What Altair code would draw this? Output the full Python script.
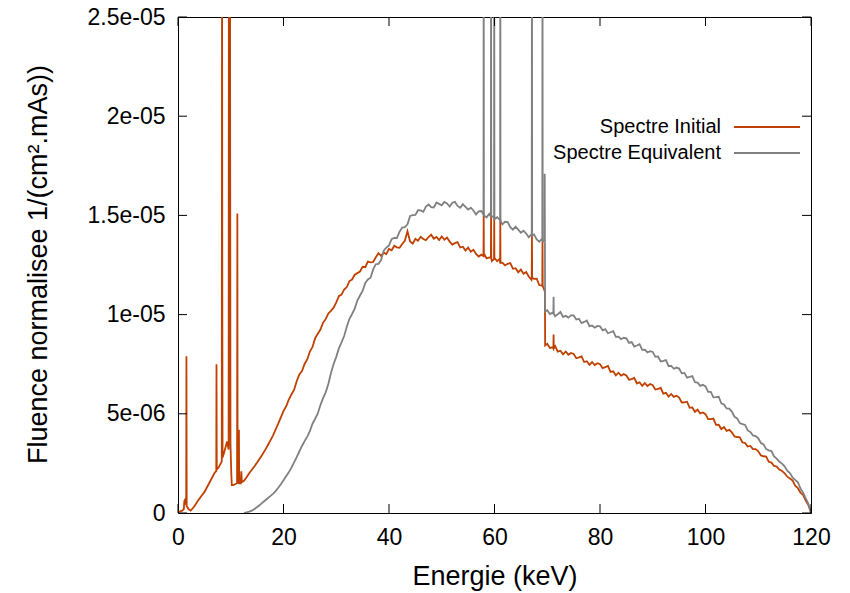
import altair as alt
import pandas as pd

# Fluence values are given in units of 1e-6 1/(cm^2.mAs)
UNIT = 1e-6

# ---- regular 0.5 keV grid, 12.5 .. 120 keV ----
grid_energy = [12.5 + 0.5 * i for i in range(216)]

initial_grid = [
    1.62, 1.80, 2.00, 2.18, 2.36, 2.55, 2.75, 2.95, 3.17, 3.40,
    3.65, 3.90, 4.20, 4.50, 4.82, 5.14, 5.37, 5.71, 5.97, 6.20,
    6.64, 6.98, 7.16, 7.51, 7.74, 8.14, 8.37, 8.81, 9.04, 9.25,
    9.59, 9.77, 10.06, 10.19, 10.35, 10.62, 10.93, 11.01, 11.26, 11.39,
    11.69, 11.77, 12.01, 12.09, 12.17,
    12.41, 12.39, 12.67, 12.63, 12.65, 12.89, 13.10, 12.96, 13.12, 13.05,
    13.31, 13.24, 13.47, 13.39, 13.37, 13.56, 13.72, 14.20, 13.68, 13.58,
    13.82, 13.72, 13.92, 13.81, 13.75, 13.91, 14.03, 13.82, 13.91, 13.76,
    13.94, 13.77, 13.88, 13.68, 13.53, 13.60, 13.65, 13.38, 13.42, 13.23,
    13.38, 13.17, 13.27, 13.06, 12.93, 13.02, 13.08, 12.83, 12.88, 12.70,
    12.86, 12.69, 12.82, 12.62, 12.48, 12.56, 12.60, 12.31, 12.34, 12.13,
    12.27, 12.06, 12.15, 11.92, 11.75, 11.80, 11.81, 11.48, 11.47, 11.20,
    8.53, 8.32, 8.35, 8.41, 8.13, 8.18, 8.00, 8.14, 7.98, 8.07,
    8.02, 7.80, 7.84, 7.89, 7.61, 7.65, 7.47, 7.61, 7.46, 7.55,
    7.50, 7.30, 7.35, 7.41, 7.11, 7.14, 6.94, 7.07, 6.92, 7.00,
    6.93, 6.72, 6.75, 6.81, 6.53, 6.59, 6.41, 6.55, 6.40, 6.50,
    6.44, 6.22, 6.25, 6.31, 6.02, 6.06, 5.87, 6.00, 5.85, 5.91,
    5.82, 5.57, 5.58, 5.61, 5.30, 5.32, 5.10, 5.21, 5.02, 5.07,
    4.98, 4.73, 4.73, 4.76, 4.44, 4.45, 4.23, 4.33, 4.14, 4.19,
    4.06, 3.86, 3.83, 3.81, 3.56, 3.53, 3.35, 3.38, 3.22, 3.22,
    3.11, 2.90, 2.86, 2.84, 2.58, 2.54, 2.37, 2.34, 2.19, 2.12,
    2.00, 1.83, 1.74, 1.64, 1.38, 1.26, 1.03, 0.91, 0.63, 0.40,
    0.02,
]

equivalent_grid = [
    0.00, 0.03, 0.07, 0.12, 0.20, 0.30, 0.40, 0.52, 0.63, 0.74,
    0.85, 0.96, 1.10, 1.27, 1.45, 1.65, 1.85, 2.05, 2.28, 2.55,
    2.82, 3.10, 3.38, 3.62, 3.85, 4.12, 4.50, 4.75, 5.02, 5.44,
    5.79, 6.08, 6.50, 7.06, 7.51, 7.87, 8.30, 8.60, 8.92, 9.39,
    9.79, 10.03, 10.30, 10.71, 10.96,
    11.19, 11.60, 11.77, 11.86, 12.28, 12.54, 12.56, 12.75, 13.22, 13.38,
    13.49, 13.80, 13.87, 13.86, 14.18, 14.39, 14.41, 14.55, 14.97, 15.01,
    15.02, 15.26, 15.25, 15.18, 15.44, 15.55, 15.42, 15.40, 15.65, 15.58,
    15.51, 15.68, 15.60, 15.45, 15.64, 15.68, 15.48, 15.39, 15.57, 15.43,
    15.29, 15.39, 15.25, 15.05, 15.20, 15.22, 15.00, 14.90, 15.08, 14.95,
    14.81, 14.91, 14.77, 14.55, 14.68, 14.66, 14.41, 14.28, 14.43, 14.28,
    14.13, 14.23, 14.09, 13.90, 14.05, 14.04, 13.79, 13.67, 13.83, 13.68,
    10.22, 10.03, 10.10, 9.92, 10.02, 10.13, 9.88, 9.94, 9.85, 9.96,
    9.96, 9.75, 9.79, 9.57, 9.63, 9.70, 9.42, 9.45, 9.34, 9.43,
    9.41, 9.21, 9.27, 9.06, 9.11, 9.17, 8.88, 8.89, 8.76, 8.83,
    8.80, 8.57, 8.61, 8.39, 8.44, 8.51, 8.22, 8.23, 8.09, 8.16,
    8.12, 7.87, 7.89, 7.64, 7.67, 7.71, 7.41, 7.41, 7.27, 7.33,
    7.28, 7.04, 7.06, 6.82, 6.86, 6.90, 6.59, 6.57, 6.41, 6.46,
    6.38, 6.11, 6.10, 5.83, 5.84, 5.86, 5.53, 5.47, 5.27, 5.26,
    5.11, 4.85, 4.77, 4.53, 4.48, 4.44, 4.16, 4.09, 3.91, 3.88,
    3.77, 3.53, 3.46, 3.22, 3.16, 3.12, 2.85, 2.74, 2.58, 2.49,
    2.35, 2.13, 2.01, 1.79, 1.67, 1.55, 1.24, 1.03, 0.74, 0.46,
    0.02,
]

# ---- low-energy part of the initial spectrum (L / M lines) ----
initial_low_energy = [0.0, 0.4, 0.8, 1.1, 1.2, 1.3, 1.5, 1.55, 1.6, 1.65, 2.0, 2.4,
                      3.0, 3.5, 4.0, 4.5, 5.0, 5.5, 6.0, 6.5, 7.0, 7.25, 7.3, 7.35,
                      7.7, 8.0, 8.3, 8.35, 8.4, 8.45, 8.7, 9.0, 9.3, 9.6, 9.65,
                      9.75, 9.85, 9.95, 10.1, 10.2, 10.5, 10.8, 11.2, 11.25, 11.3,
                      11.5, 11.55, 11.6, 11.9, 12.0, 12.1]
initial_low_value = [0.05, 0.08, 0.12, 0.2, 0.6, 0.65, 0.45, 0.4, 7.9, 0.35, 0.2, 0.12,
                     0.3, 0.5, 0.7, 0.88, 1.05, 1.3, 1.55, 1.8, 2.05, 2.1, 7.5, 2.2,
                     2.3, 2.45, 2.6, 30.0, 11.0, 2.8, 3.0, 3.3, 3.6, 3.2, 30.0,
                     4.0, 30.0, 3.5, 2.0, 1.4, 1.4, 1.45, 1.5, 15.1, 1.5,
                     1.6, 4.2, 1.5, 1.5, 2.1, 1.55]

# ---- K edge ----
initial_edge_energy = [69.56, 69.6]
initial_edge_value = [11.3, 8.45]
equivalent_edge_energy = [69.52, 69.56, 69.6]
equivalent_edge_value = [17.1, 13.6, 10.15]

# ---- K lines (narrow peaks) ----
initial_line_energy = [57.95, 59.35, 59.95, 61.1, 67.1, 69.1, 71.2]
initial_line_base = [12.95, 12.85, 12.8, 12.6, 11.85, 11.45, 8.3]
initial_line_peak = [15.1, 14.95, 14.9, 14.8, 14.0, 13.7, 9.0]
equivalent_line_energy = [57.95, 59.35, 59.95, 61.1, 67.1, 69.1, 71.2]
equivalent_line_base = [15.05, 14.93, 14.9, 14.72, 13.98, 13.71, 10.05]
equivalent_line_peak = [30.0, 30.0, 30.0, 30.0, 30.0, 30.0, 10.9]

series_names = ["Spectre Initial", "Spectre Equivalent"]
series_colors = ["#c04000", "#808080"]

x_ticks = [0, 20, 40, 60, 80, 100, 120]
y_ticks = [0, 5e-6, 1e-5, 1.5e-5, 2e-5, 2.5e-5]
y_tick_labels = ["0", "5e-06", "1e-05", "1.5e-05", "2e-05", "2.5e-05"]


def build(parts, lines):
    rows = []
    for es, vs in parts:
        rows += list(zip(es, vs))
    le, lb, lp = lines
    for e, b, p in zip(le, lb, lp):
        rows += [(e - 0.04, b), (e, p), (e + 0.04, b)]
    rows.sort(key=lambda r: r[0])
    df = pd.DataFrame(rows, columns=["E", "v"])
    df["F"] = df["v"] * UNIT
    return df


df_init = build([(grid_energy, initial_grid), (initial_low_energy, initial_low_value),
                 (initial_edge_energy, initial_edge_value)],
                (initial_line_energy, initial_line_base, initial_line_peak))
df_eq = build([(grid_energy, equivalent_grid),
               (equivalent_edge_energy, equivalent_edge_value)],
              (equivalent_line_energy, equivalent_line_base, equivalent_line_peak))

W, H = 633, 496
FONT = "Liberation Sans"
xs = alt.Scale(domain=[0, 120], nice=False, zero=False)
ys = alt.Scale(domain=[0, 2.5e-5], nice=False)

label_expr = "[" + ",".join("'%s'" % s for s in y_tick_labels) + "][round(datum.value/5e-6)]"

x_axis = alt.Axis(values=x_ticks, title="Energie (keV)", grid=False, ticks=False, domain=False,
                  labelFlush=False, labelOverlap=False,
                  labelFont=FONT, labelFontSize=23, labelColor="black", labelPadding=13,
                  titleFont=FONT, titleFontSize=27, titleFontWeight="normal", titleColor="black",
                  titleX=W / 2, titleY=63, titleBaseline="middle", titleAlign="center")
y_axis = alt.Axis(values=y_ticks, labelExpr=label_expr, title="Fluence normalisee 1/(cm².mAs))",
                  grid=False, ticks=False, domain=False,
                  labelFlush=False, labelOverlap=False, labelBaseline="middle",
                  labelFont=FONT, labelFontSize=23, labelColor="black", labelPadding=13,
                  titleFont=FONT, titleFontSize=27, titleFontWeight="normal", titleColor="black",
                  titleX=-140, titleY=H / 2 - 1, titleAngle=-90, titleBaseline="middle", titleAlign="center")

line_init = alt.Chart(df_init).mark_line(clip=True, strokeWidth=1.8, color=series_colors[0]).encode(
    x=alt.X("E:Q", scale=xs, axis=x_axis),
    y=alt.Y("F:Q", scale=ys, axis=y_axis),
)
line_eq = alt.Chart(df_eq).mark_line(clip=True, strokeWidth=1.8, color=series_colors[1]).encode(
    x=alt.X("E:Q", scale=xs, axis=x_axis),
    y=alt.Y("F:Q", scale=ys, axis=y_axis),
)

xt = pd.DataFrame({"E": x_ticks})
yt = pd.DataFrame({"F": y_ticks})
TL = 9
tick_style = dict(color="black", strokeWidth=1)
ticks_bottom = alt.Chart(xt).mark_rule(**tick_style).encode(
    x=alt.X("E:Q", scale=xs, axis=x_axis), y=alt.value(H), y2=alt.value(H - TL))
ticks_top = alt.Chart(xt).mark_rule(**tick_style).encode(
    x=alt.X("E:Q", scale=xs, axis=x_axis), y=alt.value(0), y2=alt.value(TL))
ticks_left = alt.Chart(yt).mark_rule(**tick_style).encode(
    y=alt.Y("F:Q", scale=ys, axis=y_axis), x=alt.value(0), x2=alt.value(TL))
ticks_right = alt.Chart(yt).mark_rule(**tick_style).encode(
    y=alt.Y("F:Q", scale=ys, axis=y_axis), x=alt.value(W), x2=alt.value(W - TL))

one = pd.DataFrame({"a": [0]})
legend_layers = []
for i, (name, col) in enumerate(zip(series_names, series_colors)):
    ly = 110 + 26 * i
    legend_layers.append(alt.Chart(one).mark_text(
        text=name, align="right", baseline="middle", font=FONT, fontSize=20, color="black"
    ).encode(x=alt.value(543), y=alt.value(ly)))
    legend_layers.append(alt.Chart(one).mark_rule(color=col, strokeWidth=1.8).encode(
        x=alt.value(556), x2=alt.value(622), y=alt.value(ly)))

chart = alt.layer(
    line_init, line_eq, ticks_bottom, ticks_top, ticks_left, ticks_right, *legend_layers
).properties(
    width=W, height=H,
    autosize=alt.AutoSizeParams(type="none"),
    padding={"left": 170, "top": 9, "right": 31, "bottom": 85},
).configure_view(stroke="black", strokeWidth=1)

chart.save("out.html", embed_options={"renderer": "svg", "actions": False})
